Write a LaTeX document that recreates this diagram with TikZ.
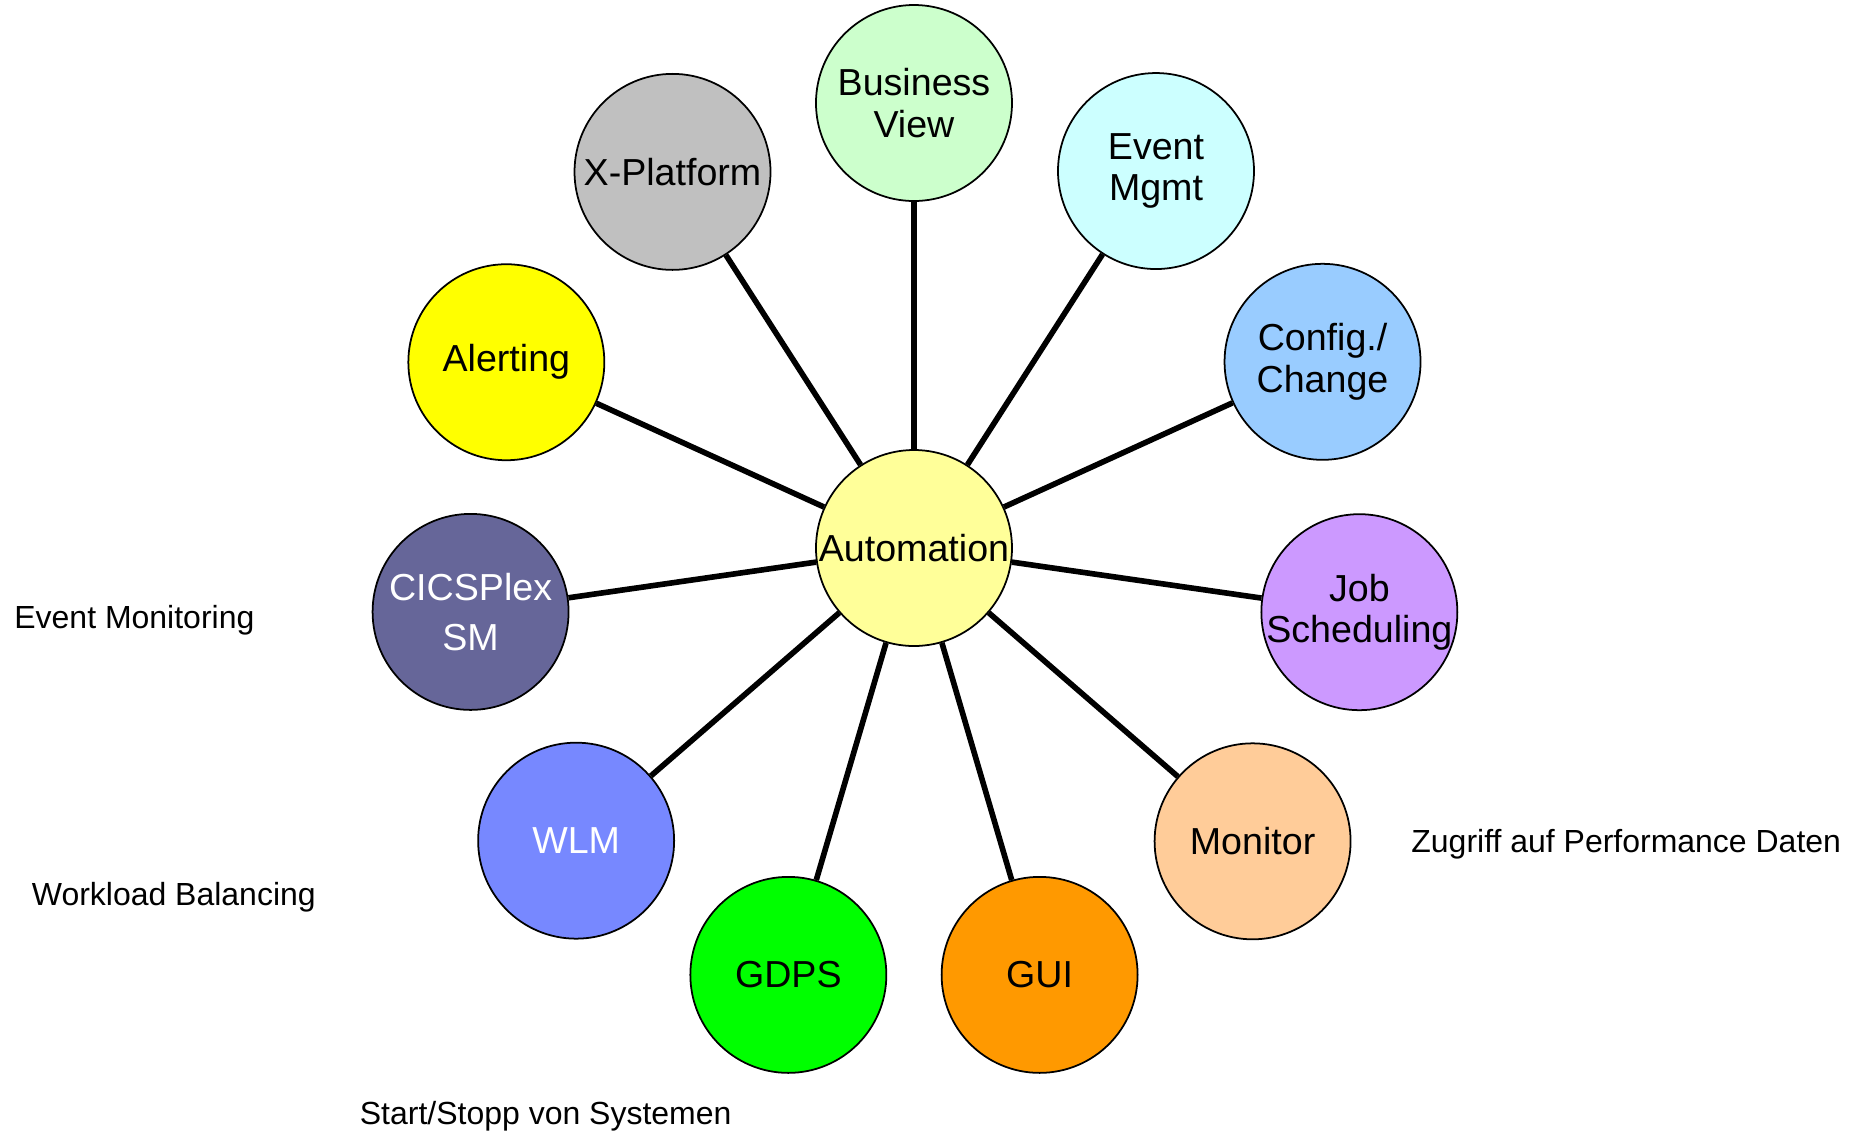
\documentclass[tikz,border=0pt]{standalone}
\usepackage{fontspec}
\setmainfont{Liberation Sans}
\usepackage{tikz}
\definecolor{autoyellow}{HTML}{FFFF99}
\definecolor{bvgreen}{HTML}{CCFFCC}
\definecolor{emcyan}{HTML}{CCFFFF}
\definecolor{ccblue}{HTML}{99CCFF}
\definecolor{jspurple}{HTML}{CC99FF}
\definecolor{monorange}{HTML}{FFCC99}
\definecolor{guiorange}{HTML}{FF9900}
\definecolor{gdpsgreen}{HTML}{00FF00}
\definecolor{wlmblue}{HTML}{7788FF}
\definecolor{cicsblue}{HTML}{666699}
\definecolor{alertyellow}{HTML}{FFFF00}
\definecolor{xpgray}{HTML}{C0C0C0}

\begin{document}
\begin{tikzpicture}[thick]
  \tikzstyle{every node} = [inner sep = 0pt];
  \tikzstyle{bubble} = [draw, circle, line width=0.5pt, inner sep=-1mm, minimum size=1.96cm, align=center, font=\fontsize{10.7}{11.8}\selectfont];
  \tikzstyle{note} = [anchor=west, font=\fontsize{9.1}{11}\selectfont];
  \tikzstyle{spoke} = [line width=1.6pt];
  \useasboundingbox (-9.14,-5.85) rectangle (9.47,5.48);

  \node (auto) [bubble, fill=autoyellow] at (0,0) {Automation};

  \node (bv) [bubble, fill=bvgreen] at (90:4.45) {Business\\View};
  \node (em) [bubble, fill=emcyan] at (57.3:4.48) {Event\\Mgmt};
  \node (cc) [bubble, fill=ccblue] at (24.5:4.49) {Config./\\Change};
  \node (js) [bubble, fill=jspurple] at (-8.2:4.5) {Job\\Scheduling};
  \node (mon) [bubble, fill=monorange] at (-40.9:4.48) {Monitor};
  \node (gui) [bubble, fill=guiorange] at (-73.6:4.45) {GUI};
  \node (gdps) [bubble, fill=gdpsgreen] at (-106.4:4.45) {GDPS};
  \node (wlm) [bubble, fill=wlmblue, text=white] at (-139.1:4.47) {WLM};
  \node (cics) [bubble, fill=cicsblue, text=white, font=\fontsize{10.7}{14.2}\selectfont] at (-171.8:4.48) {CICSPlex\\SM};
  \node (alert) [bubble, fill=alertyellow] at (155.5:4.48) {Alerting};
  \node (xp) [bubble, fill=xpgray] at (122.7:4.47) {X-Platform};

  \foreach \n in {bv,em,cc,js,mon,gui,gdps,wlm,cics,alert,xp}{
    \draw[spoke] (auto) -- (\n);
  }

  \node (evmon) [note] at (-9.01,-0.72) {Event Monitoring};
  \node (wlbal) [note] at (-8.835,-3.495) {Workload Balancing};
  \node (start) [note] at (-5.555,-5.68) {Start/Stopp von Systemen};
  \node (perf) [note] at (4.96,-2.96) {Zugriff auf Performance Daten};
\end{tikzpicture}
\end{document}
